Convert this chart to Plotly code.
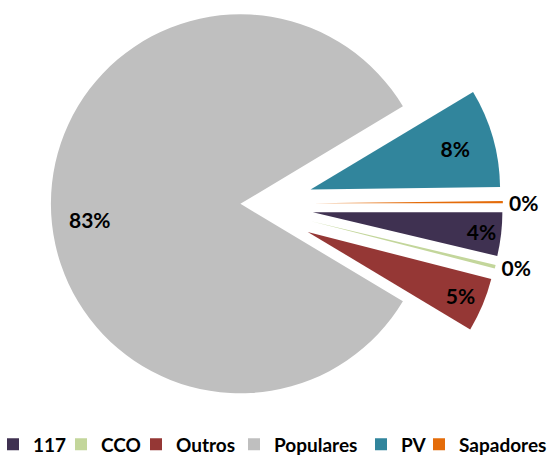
import math
import plotly.graph_objects as go

# ---- data ----
labels = ["117", "CCO", "Outros", "Populares", "PV", "Sapadores"]
values = [3.7, 0.3, 4.6, 82.8, 8.4, 0.2]
colors = ["#3F3151", "#C3D69B", "#953735", "#BFBFBF", "#31859C", "#E46C0A"]
exploded = [True, True, True, False, True, True]
text_side = ["inside", "outside", "inside", "annot", "inside", "outside"]

# ---- layout constants ----
W, H = 551, 457
R = 189.5              # pie radius in px
CX, CY = 240.4, 203.8  # centre of the un-exploded pie (px from top-left)
PULL = 0.385           # explosion as fraction of radius
ROTATION = 90
FONT = "Lato"
CLEAR = "rgba(0,0,0,0)"
LABEL_FONT = dict(family=FONT, size=21, color="#000000", weight="bold")
LEGEND_TEXT_X = [33, 101, 176, 274, 401, 459]   # px where each legend text starts
LEGEND_Y = 444.5                                 # px, vertical centre of the legend row

total = sum(values)


def domain_for(cx, cy):
    x0, x1 = (cx - R) / W, (cx + R) / W
    y0, y1 = (H - cy - R) / H, (H - cy + R) / H
    if y1 > 1:
        y0, y1 = y0 - (y1 - 1), 1.0
    if y0 < 0:
        y0, y1 = 0.0, y1 - y0
    if x1 > 1:
        x0, x1 = x0 - (x1 - 1), 1.0
    if x0 < 0:
        x0, x1 = 0.0, x1 - x0
    return dict(x=[max(0, x0), min(1, x1)], y=[max(0, y0), min(1, y1)])


def slice_trace(i, cx, cy):
    n = len(labels)
    shown = text_side[i] in ("inside", "outside")
    return go.Pie(
        labels=labels,
        values=values,
        sort=False,
        direction="clockwise",
        rotation=ROTATION,
        marker=dict(colors=[colors[j] if j == i else CLEAR for j in range(n)],
                    line=dict(width=0)),
        texttemplate=["%{percent:.0%}" if (j == i and shown) else "" for j in range(n)],
        textposition=[text_side[j] if (j == i and shown) else "none" for j in range(n)],
        insidetextorientation="horizontal",
        insidetextfont=LABEL_FONT,
        outsidetextfont=LABEL_FONT,
        domain=domain_for(cx, cy),
        showlegend=False,
        hoverinfo="skip",
    )


fig = go.Figure()

# one tiny legend-only pie per category, each with its own legend box
for k, (lab, val, col) in enumerate(zip(labels, values, colors)):
    fig.add_trace(go.Pie(
        labels=[lab], values=[val], marker=dict(colors=[col], line=dict(width=0)),
        textinfo="none", domain=dict(x=[0, 0.0001], y=[0, 0.0001]),
        showlegend=True, hoverinfo="skip",
        legend="legend" if k == 0 else f"legend{k + 1}",
    ))

annotations = []
cum = 0.0
for i, v in enumerate(values):
    mid = math.radians(ROTATION + 360.0 * (cum + v / 2) / total)
    cum += v
    d = PULL * R if exploded[i] else 0.0
    cx = CX + d * math.sin(mid)
    cy = CY - d * math.cos(mid)
    fig.add_trace(slice_trace(i, cx, cy))
    if text_side[i] == "annot":
        # large slice: label near the rim (0.8 r), slightly below the bisector
        a = mid - math.radians(6)
        lx = cx + 0.8 * R * math.sin(a)
        ly = cy - 0.8 * R * math.cos(a)
        annotations.append(dict(
            x=lx / W, y=1 - ly / H, xref="paper", yref="paper",
            text=f"{round(100 * v / total)}%", showarrow=False,
            font=LABEL_FONT, xanchor="center", yanchor="middle",
        ))

legend_common = dict(
    orientation="h", xanchor="left", yanchor="middle",
    y=1 - LEGEND_Y / H,
    font=dict(family=FONT, size=19, color="#000000", weight="bold"),
    bgcolor="rgba(0,0,0,0)", borderwidth=0,
)
legends = {}
for k, tx in enumerate(LEGEND_TEXT_X):
    key = "legend" if k == 0 else f"legend{k + 1}"
    legends[key] = dict(legend_common, x=(tx - 40) / W)

fig.update_layout(
    width=W, height=H,
    margin=dict(l=0, r=0, t=0, b=0, autoexpand=False),
    paper_bgcolor="#FFFFFF",
    plot_bgcolor="#FFFFFF",
    font=dict(family=FONT, color="#000000"),
    annotations=annotations,
    **legends,
)

# remove the browser's default 8px page margin so the figure fills the window
fig.write_html("out.html",
               config={"displayModeBar": False},
               post_script="document.body.style.margin='0';"
                           "document.body.style.overflow='hidden';")
